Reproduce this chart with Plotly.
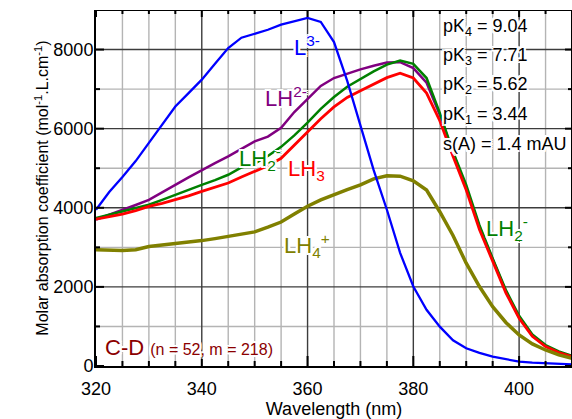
import numpy as np
import plotly.graph_objects as go

wavelength = [320, 322.5, 325, 327.5, 330, 332.5, 335, 337.5, 340, 342.5, 345, 347.5,
              350, 352.5, 355, 357.5, 360, 362.5, 365, 367.5, 370, 372.5, 375, 377.5,
              380, 382.5, 385, 387.5, 390, 392.5, 395, 397.5, 400, 402.5, 405, 407.5, 410]

eps_L = [3950, 4400, 4780, 5180, 5640, 6100, 6560, 6900, 7240, 7640, 8040, 8300,
         8400, 8500, 8630, 8720, 8800, 8700, 8190, 7210, 6080, 4950, 3950, 2860,
         2010, 1420, 995, 650, 448, 330, 235, 165, 110, 85, 68, 52, 43]

eps_LH = [3700, 3820, 3950, 4070, 4200, 4380, 4580, 4770, 4960, 5130, 5300, 5480,
          5680, 5800, 6020, 6420, 6750, 7080, 7280, 7390, 7500, 7590, 7670, 7680,
          7530, 7160, 6350, 5400, 4500, 3520, 2680, 1880, 1230, 770, 500, 350, 245]

eps_LH2 = [3740, 3820, 3906, 3990, 4076, 4200, 4330, 4450, 4580, 4700, 4835, 5020,
           5120, 5310, 5540, 5830, 6150, 6500, 6800, 7060, 7260, 7450, 7620, 7720,
           7640, 7280, 6400, 5420, 4580, 3560, 2720, 1920, 1270, 800, 530, 370, 260]

eps_LH3 = [3710, 3780, 3840, 3930, 4035, 4110, 4200, 4300, 4413, 4520, 4625, 4780,
           4930, 5060, 5250, 5580, 5900, 6250, 6550, 6790, 6960, 7120, 7290, 7400,
           7280, 6900, 6200, 5300, 4450, 3450, 2650, 1850, 1208, 750, 490, 340, 235]

eps_LH4 = [2940, 2930, 2920, 2940, 3020, 3060, 3090, 3130, 3170, 3220, 3275, 3350,
           3390, 3510, 3640, 3840, 4040, 4200, 4340, 4460, 4580, 4730, 4810, 4800,
           4680, 4450, 3900, 3300, 2600, 2010, 1500, 1100, 785, 560, 405, 280, 195]

pk_lines = ["pK<sub>4</sub> = 9.04", "pK<sub>3</sub> = 7.71", "pK<sub>2</sub> = 5.62",
            "pK<sub>1</sub> = 3.44", "s(A) = 1.4 mAU"]

X_RANGE = (320, 410)
Y_RANGE = (0, 9000)
X_MAJOR, X_MINOR = 20, 5
Y_MAJOR, Y_MINOR = 2000, 1000

W, H = 572, 419
M_L, M_R, M_T, M_B = 96, 0, 10, 53
SX = (X_RANGE[1] - X_RANGE[0]) / (W - M_L - M_R)   # data units per pixel
SY = (Y_RANGE[1] - Y_RANGE[0]) / (H - M_T - M_B)

FONT = "Liberation Sans, Arial, sans-serif"
HALO = ("white 2px 0px 0px, white -2px 0px 0px, white 0px 2px 0px, white 0px -2px 0px, "
        "white 2px 2px 0px, white -2px -2px 0px, white 2px -2px 0px, white -2px 2px 0px")

BLUE = "#0000ff"
PURPLE = "#800080"
GREEN = "#008000"
RED = "#ff0000"
OLIVE = "#808000"
DARKRED = "#8b0000"
GRID_MAJ = "#3c3c3c"
GRID_MIN = "#b4b4b4"

xv = np.arange(X_RANGE[0], X_RANGE[1] + 0.1, X_MINOR)
yv = np.arange(Y_RANGE[0], Y_RANGE[1] + 0.1, Y_MINOR)
x_major = [(v - X_RANGE[0]) % X_MAJOR == 0 for v in xv]
y_major = [(v - Y_RANGE[0]) % Y_MAJOR == 0 for v in yv]


def segs(pairs):
    xs, ys = [], []
    for (xa, xb), (ya, yb) in pairs:
        xs += [xa, xb, None]
        ys += [ya, yb, None]
    return xs, ys


def helper(xs, ys, color, width):
    return go.Scatter(x=xs, y=ys, mode="lines", line=dict(color=color, width=width),
                      showlegend=False, hoverinfo="skip", cliponaxis=False)


fig = go.Figure()

# grid (light minor first, then dark major)
for want_major, col, gw in ((False, GRID_MIN, 1.4), (True, GRID_MAJ, 1.4)):
    pairs = [((v, v), Y_RANGE) for v, m in zip(xv, x_major)
             if m == want_major and X_RANGE[0] < v < X_RANGE[1]]
    pairs += [(X_RANGE, (v, v)) for v, m in zip(yv, y_major)
              if m == want_major and Y_RANGE[0] < v < Y_RANGE[1]]
    fig.add_trace(helper(*segs(pairs), col, gw))

series = [
    (eps_LH, PURPLE, 2.5),
    (eps_LH2, GREEN, 2.5),
    (eps_LH3, RED, 2.8),
    (eps_LH4, OLIVE, 3.5),
    (eps_L, BLUE, 2.3),
]
for ys, col, w in series:
    fig.add_trace(go.Scatter(x=wavelength, y=ys, mode="lines",
                             line=dict(color=col, width=w), showlegend=False,
                             hoverinfo="skip"))

# frame (top and right) and tick marks
tick_pairs = [((X_RANGE[0], X_RANGE[1]), (Y_RANGE[1], Y_RANGE[1])),
              ((X_RANGE[1], X_RANGE[1]), (Y_RANGE[0], Y_RANGE[1]))]
for v, m in zip(xv, x_major):
    n_in = 10 if m else 5
    tick_pairs.append(((v, v), (Y_RANGE[0] - 5 * SY, Y_RANGE[0] + n_in * SY)))
    tick_pairs.append(((v, v), (Y_RANGE[1], Y_RANGE[1] - (7 if m else 4) * SY)))
for v, m in zip(yv, y_major):
    n_in = 8 if m else 4
    tick_pairs.append(((X_RANGE[0] - 6 * SX, X_RANGE[0] + n_in * SX), (v, v)))
    tick_pairs.append(((X_RANGE[1], X_RANGE[1] - (7 if m else 4) * SX), (v, v)))
fig.add_trace(helper(*segs(tick_pairs), "black", 2))

fig.update_layout(
    template="none",
    width=W, height=H,
    margin=dict(l=M_L, r=M_R, t=M_T, b=M_B, autoexpand=False),
    plot_bgcolor="white", paper_bgcolor="white",
    font=dict(family=FONT, size=18, color="black"),
    xaxis=dict(range=list(X_RANGE), dtick=X_MAJOR, tick0=X_RANGE[0], ticks="",
               showline=True, linecolor="black", linewidth=2,
               showgrid=False, zeroline=False, automargin=False, ticklabelstandoff=5,
               title=dict(text="Wavelength (nm)", font=dict(size=18)),
               tickfont=dict(size=18)),
    yaxis=dict(range=list(Y_RANGE), dtick=Y_MAJOR, ticks="",
               showline=True, linecolor="black", linewidth=2,
               showgrid=False, zeroline=False, automargin=False, ticklabelstandoff=-3,
               title=dict(text="Molar absorption coefficient (mol<sup>-1</sup>.L.cm<sup>-1</sup>)",
                          font=dict(size=16)),
               tickfont=dict(size=18)),
)


def label(text, x, y, color, size=22):
    fig.add_annotation(x=x, y=y, xref="x", yref="y", text=text, showarrow=False,
                       xanchor="left", yanchor="middle",
                       font=dict(family=FONT, size=size, color=color, shadow=HALO))


label("L<sup>3-</sup>", 357.0, 8100, BLUE)
label("LH<sup>2-</sup>", 351.5, 6800, PURPLE)
label("LH<sub>2</sub><sup>-</sup>", 346.7, 5250, GREEN)
label("LH<sub>3</sub>", 356.0, 4950, RED)
label("LH<sub>4</sub><sup>+</sup>", 355.2, 3050, OLIVE)
label("LH<sub>2</sub><sup>-</sup>", 393.4, 3480, GREEN)
label("C-D <span style='font-size:16px'>(n = 52, m = 218)</span>", 321.3, 480, DARKRED)

pk_y = [8560, 7830, 7080, 6340, 5620]
for txt, yy in zip(pk_lines, pk_y):
    label(txt, 385.2, yy, "black", size=18)

fig.write_html("out.html")
